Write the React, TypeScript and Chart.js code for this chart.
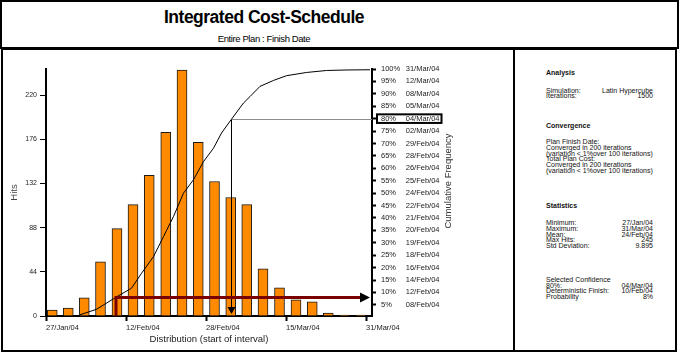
import React, { useEffect, useRef } from 'react';
import { Chart, registerables } from 'chart.js';

Chart.register(...registerables);

const FONT = '"Liberation Sans", Arial, Helvetica, sans-serif';

// ---- data ----
// bin centres in days after 27/Jan/04
const binCenters = [1.25, 4.45, 7.65, 10.9, 14.2, 17.4, 20.65, 23.95, 27.2, 30.45, 33.7, 36.95, 40.15, 43.4, 46.7, 50.0, 53.25, 56.45, 59.7, 62.95];
const hits = [6, 8, 18, 54, 87, 111, 140, 183, 245, 173, 134, 118, 111, 47, 28, 16, 14, 3, 1, 1];

const cumDays = [6.8, 10.1, 14.1, 17.1, 19.1, 21.5, 23.5, 25.5, 27.5, 29.5, 31.5, 33.5, 35.1, 37.1, 39.5, 40.8, 42.8, 45.5, 48.1, 52.1, 56.1, 60.0, 64.8];
const cumPct = [1.0, 3.2, 8.2, 11.7, 17.7, 24.4, 32.5, 40.6, 50.0, 55.4, 62.7, 68.1, 74.2, 79.8, 86.3, 88.9, 93.0, 95.4, 97.3, 98.6, 99.4, 99.6, 99.7];

const xTickDays = [0, 16, 32, 48, 64];
const xTickLabels = ['27/Jan/04', '12/Feb/04', '28/Feb/04', '15/Mar/04', '31/Mar/04'];
const hitsTicks = [0, 44, 88, 132, 176, 220];
const pctTicks = [5, 10, 15, 20, 25, 30, 35, 40, 45, 50, 55, 60, 65, 70, 75, 80, 85, 90, 95, 100];
const pctDates = ['08/Feb/04', '12/Feb/04', '14/Feb/04', '16/Feb/04', '18/Feb/04', '19/Feb/04', '20/Feb/04', '21/Feb/04', '22/Feb/04', '24/Feb/04', '25/Feb/04', '26/Feb/04', '28/Feb/04', '29/Feb/04', '02/Mar/04', '04/Mar/04', '05/Mar/04', '08/Mar/04', '12/Mar/04', '31/Mar/04'];

const confidencePct = 80;
const confidenceDay = 37;
const deterministicPct = 8;
const deterministicDay = 14;

const analysisRows = [['Simulation:', 'Latin Hypercube'], ['Iterations:', '1500']];
const convergenceLines = ['Plan Finish Date:', 'Converged in 200 iterations', '(variation < 1%over 100 iterations)', 'Total Plan Cost:', 'Converged in 200 iterations', '(variation < 1%over 100 iterations)'];
const statisticsRows = [['Minimum:', '27/Jan/04'], ['Maximum:', '31/Mar/04'], ['Mean:', '24/Feb/04'], ['Max Hits:', '245'], ['Std Deviation:', '9.895']];
const confidenceRows = [['80%:', '04/Mar/04'], ['Deterministic Finish:', '10/Feb/04'], ['Probability', '8%']];

const overlayPlugin = {
  id: 'overlay',
  afterDatasetsDraw(chart: any) {
    const { ctx, chartArea } = chart;
    const x = chart.scales.x;
    const y2 = chart.scales.y2;
    const cx = Math.round(x.getPixelForValue(confidenceDay)) + 0.5;
    const cy = Math.round(y2.getPixelForValue(confidencePct)) + 0.5;
    ctx.save();
    ctx.lineWidth = 1;
    ctx.strokeStyle = '#8c8c8c';
    ctx.beginPath();
    ctx.moveTo(cx, cy);
    ctx.lineTo(chartArea.right, cy);
    ctx.stroke();
    ctx.strokeStyle = '#000';
    ctx.beginPath();
    ctx.moveTo(cx, cy);
    ctx.lineTo(cx, chartArea.bottom - 8);
    ctx.stroke();
    ctx.fillStyle = '#000';
    ctx.beginPath();
    ctx.moveTo(cx - 4, chartArea.bottom - 9);
    ctx.lineTo(cx + 4, chartArea.bottom - 9);
    ctx.lineTo(cx, chartArea.bottom - 2);
    ctx.closePath();
    ctx.fill();

    const dx = x.getPixelForValue(deterministicDay);
    const dy = y2.getPixelForValue(deterministicPct);
    ctx.strokeStyle = '#7a0000';
    ctx.lineWidth = 3;
    ctx.lineJoin = 'miter';
    ctx.beginPath();
    ctx.moveTo(dx, chartArea.bottom);
    ctx.lineTo(dx, dy);
    ctx.lineTo(chartArea.right - 11, dy);
    ctx.stroke();
    ctx.fillStyle = '#000';
    ctx.beginPath();
    ctx.moveTo(chartArea.right - 12, dy - 5);
    ctx.lineTo(chartArea.right - 2, dy);
    ctx.lineTo(chartArea.right - 12, dy + 5);
    ctx.closePath();
    ctx.fill();
    ctx.restore();
  },
  afterDraw(chart: any) {
    const { ctx } = chart;
    const y2 = chart.scales.y2;
    ctx.save();
    ctx.font = `7.5px ${FONT}`;
    ctx.fillStyle = '#222';
    ctx.textAlign = 'right';
    ctx.textBaseline = 'middle';
    pctTicks.forEach((v, i) => {
      ctx.fillText(pctDates[i], y2.left + 67.5, y2.getPixelForValue(v));
    });
    const by = y2.getPixelForValue(confidencePct);
    ctx.strokeStyle = '#000';
    ctx.lineWidth = 2;
    ctx.strokeRect(y2.left + 5, by - 4.3, 64.5, 8.6);
    ctx.translate(y2.left + 76, 131);
    ctx.rotate(-Math.PI / 2);
    ctx.font = `9.5px ${FONT}`;
    ctx.fillStyle = '#333';
    ctx.textAlign = 'center';
    ctx.fillText('Cumulative Frequency', 0, 0);
    ctx.restore();
  },
};

function ChartCanvas() {
  const ref = useRef<HTMLCanvasElement | null>(null);
  useEffect(() => {
    if (!ref.current) return;
    const chart = new Chart(ref.current, {
      type: 'bar',
      data: {
        datasets: [
          {
            type: 'line',
            label: 'Cumulative',
            data: cumDays.map((d, i) => ({ x: d, y: cumPct[i] })),
            xAxisID: 'x',
            yAxisID: 'y2',
            borderColor: '#000',
            borderWidth: 1,
            pointRadius: 0,
            tension: 0,
            fill: false,
          } as any,
          {
            type: 'bar',
            label: 'Hits',
            data: binCenters.map((d, i) => ({ x: d, y: hits[i] })),
            xAxisID: 'x',
            yAxisID: 'y',
            backgroundColor: '#ff8a00',
            borderColor: '#1a1a1a',
            borderWidth: 1,
            barThickness: 10,
          } as any,
        ],
      },
      options: {
        animation: false,
        responsive: false,
        devicePixelRatio: 1,
        layout: { padding: { top: 19, left: 0, right: 0, bottom: 0 } },
        plugins: { legend: { display: false }, tooltip: { enabled: false } },
        scales: {
          x: {
            type: 'linear',
            min: 0,
            max: 65.2,
            offset: false,
            afterBuildTicks: (s: any) => { s.ticks = xTickDays.map((value) => ({ value })); },
            afterFit: (s: any) => { s.height = 34; },
            grid: { display: true, drawOnChartArea: false, offset: false, tickLength: 5, tickWidth: 2, tickColor: '#000' },
            border: { display: true, color: '#000', width: 2 },
            ticks: {
              align: 'start',
              maxRotation: 0,
              autoSkip: false,
              padding: 2,
              color: '#222',
              font: { family: FONT, size: 7.5 },
              callback: (_v: any, i: number) => xTickLabels[i],
            },
            title: {
              display: true,
              text: 'Distribution (start of interval)',
              color: '#222',
              font: { family: FONT, size: 9.5 },
              padding: { top: 0, bottom: 5 },
            },
          } as any,
          y: {
            type: 'linear',
            position: 'left',
            min: 0,
            max: 246,
            afterBuildTicks: (s: any) => { s.ticks = hitsTicks.map((value) => ({ value })); },
            afterFit: (s: any) => { s.width = 43; },
            grid: { display: true, drawOnChartArea: false, tickLength: 6, tickWidth: 1, tickColor: '#000' },
            border: { display: true, color: '#000', width: 2 },
            ticks: { padding: 3, color: '#222', font: { family: FONT, size: 7 } },
            title: {
              display: true,
              text: 'Hits',
              color: '#444',
              font: { family: FONT, size: 9.5 },
              padding: { top: 6, bottom: 0 },
            },
          } as any,
          y2: {
            type: 'linear',
            position: 'right',
            min: 0.5,
            max: 100,
            afterBuildTicks: (s: any) => { s.ticks = pctTicks.map((value) => ({ value })); },
            afterFit: (s: any) => { s.width = 141; },
            grid: { display: true, drawOnChartArea: false, tickLength: 4, tickWidth: 2, tickColor: '#000' },
            border: { display: true, color: '#000', width: 2 },
            ticks: {
              padding: 5,
              color: '#222',
              font: { family: FONT, size: 7.5 },
              callback: (v: any) => `${v}%`,
            },
          } as any,
        },
      },
      plugins: [overlayPlugin],
    });
    return () => chart.destroy();
  }, []);
  return <canvas ref={ref} width={510} height={300} style={{ position: 'absolute', left: 3, top: 50, width: 510, height: 300 }} />;
}

const LINE = 5.65;

function Row({ y, left, right, bold }: { y: number; left: string; right?: string; bold?: boolean }) {
  return (
    <div
      style={{
        position: 'absolute',
        left: 546,
        top: y - 4,
        width: 107,
        height: 8,
        lineHeight: '8px',
        fontSize: 7,
        fontWeight: bold ? 'bold' : 'normal',
        color: '#111',
        display: 'flex',
        justifyContent: 'space-between',
        whiteSpace: 'nowrap',
      }}
    >
      <span>{left}</span>
      {right !== undefined && <span>{right}</span>}
    </div>
  );
}

export default function App() {
  return (
    <div style={{ position: 'absolute', left: 0, top: 0, width: 679, height: 358, background: '#fff', fontFamily: FONT }}>
      <div style={{ position: 'absolute', left: 0, top: 0, width: 679, height: 49, border: '2px solid #000', boxSizing: 'border-box' }} />
      <div style={{ position: 'absolute', left: 0, top: 7, width: 528, textAlign: 'center', fontSize: 17.5, fontWeight: 'bold', letterSpacing: -0.5, lineHeight: '20px', color: '#000', whiteSpace: 'nowrap' }}>
        Integrated Cost-Schedule
      </div>
      <div style={{ position: 'absolute', left: 0, top: 33, width: 528, textAlign: 'center', fontSize: 9.5, letterSpacing: -0.4, lineHeight: '11px', color: '#000', whiteSpace: 'nowrap' }}>
        Entire Plan : Finish Date
      </div>
      <div style={{ position: 'absolute', left: 1, top: 48, width: 676, height: 304, border: '2px solid #000', boxSizing: 'border-box' }} />
      <div style={{ position: 'absolute', left: 513, top: 50, width: 2, height: 300, background: '#000' }} />
      <ChartCanvas />
      <Row y={73.3} left="Analysis" bold />
      {analysisRows.map((r, i) => (
        <Row key={'a' + i} y={90.7 + i * LINE} left={r[0]} right={r[1]} />
      ))}
      <Row y={125.7} left="Convergence" bold />
      {convergenceLines.map((t, i) => (
        <Row key={'c' + i} y={142.3 + i * LINE} left={t} />
      ))}
      <Row y={205.7} left="Statistics" bold />
      {statisticsRows.map((r, i) => (
        <Row key={'s' + i} y={223.3 + i * LINE} left={r[0]} right={r[1]} />
      ))}
      <Row y={280} left="Selected Confidence" />
      {confidenceRows.map((r, i) => (
        <Row key={'k' + i} y={285.7 + i * LINE} left={r[0]} right={r[1]} />
      ))}
    </div>
  );
}
